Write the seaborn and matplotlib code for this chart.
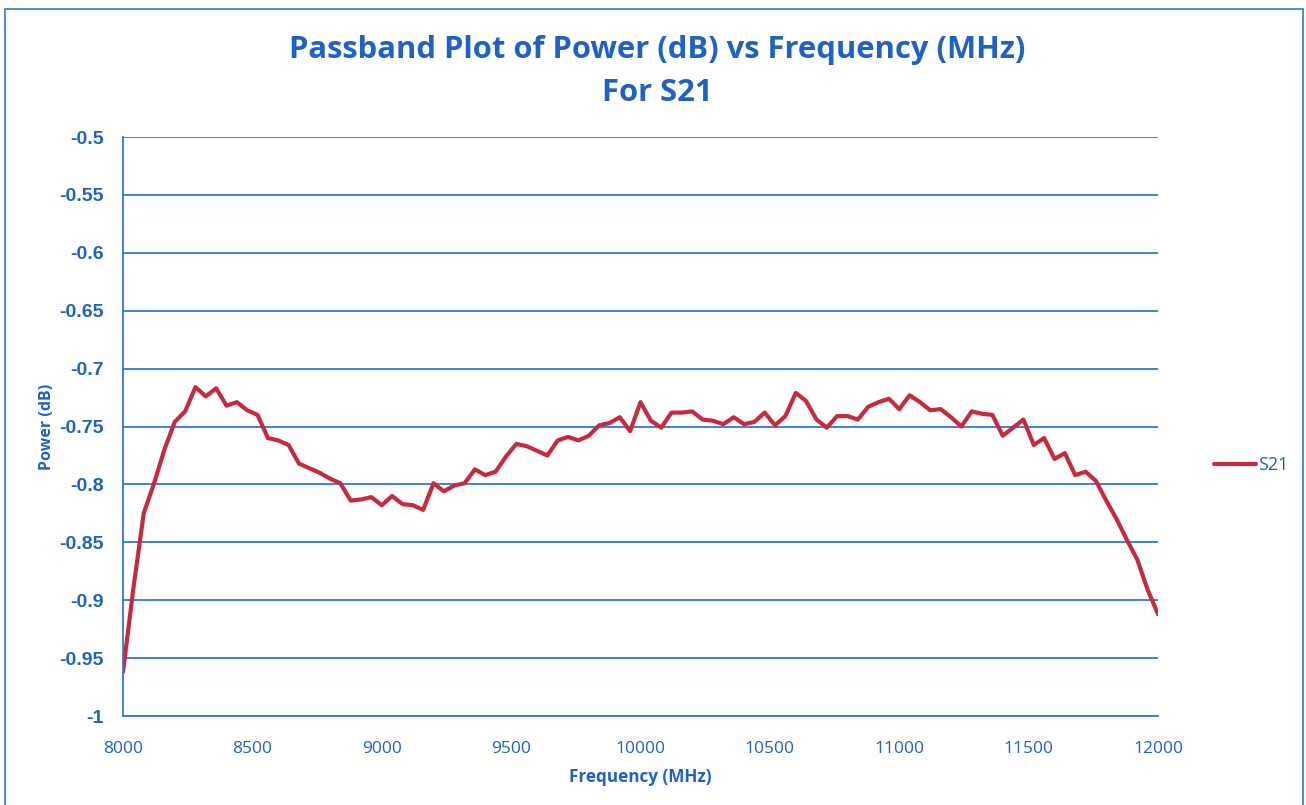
import numpy as np
import pandas as pd
import matplotlib
matplotlib.use("Agg")
import matplotlib.pyplot as plt
import seaborn as sns
from matplotlib.lines import Line2D
from matplotlib.patches import Rectangle

# Frequency points (MHz), 40 MHz step from 8000 to 12000
freq_start = 8000
freq_step = 40
power_db = [
    -0.962, -0.890, -0.825, -0.799, -0.770, -0.746, -0.737, -0.716, -0.724, -0.717,
    -0.732, -0.729, -0.736, -0.740, -0.760, -0.762, -0.766, -0.782, -0.786, -0.790,
    -0.795, -0.799, -0.814, -0.813, -0.811, -0.818, -0.810, -0.817, -0.818, -0.822,
    -0.799, -0.806, -0.801, -0.799, -0.787, -0.792, -0.789, -0.776, -0.765, -0.767,
    -0.771, -0.775, -0.762, -0.759, -0.762, -0.758, -0.749, -0.747, -0.742, -0.754,
    -0.729, -0.745, -0.751, -0.738, -0.738, -0.737, -0.744, -0.745, -0.748, -0.742,
    -0.748, -0.746, -0.738, -0.749, -0.741, -0.721, -0.728, -0.744, -0.751, -0.741,
    -0.741, -0.744, -0.733, -0.729, -0.726, -0.735, -0.723, -0.729, -0.736, -0.735,
    -0.742, -0.750, -0.737, -0.739, -0.740, -0.758, -0.751, -0.744, -0.766, -0.760,
    -0.778, -0.773, -0.792, -0.789, -0.797, -0.814, -0.830, -0.848, -0.865, -0.891,
    -0.912,
]
frequency_mhz = [freq_start + freq_step * i for i in range(len(power_db))]
series_name = "S21"

x_ticks = [8000, 8500, 9000, 9500, 10000, 10500, 11000, 11500, 12000]
y_ticks = [-1, -0.95, -0.9, -0.85, -0.8, -0.75, -0.7, -0.65, -0.6, -0.55, -0.5]
y_tick_labels = ["-1", "-0.95", "-0.9", "-0.85", "-0.8", "-0.75", "-0.7", "-0.65", "-0.6", "-0.55", "-0.5"]

df = pd.DataFrame({"Frequency (MHz)": frequency_mhz, "Power (dB)": power_db, "Series": series_name})

sns.set_theme(style="white")
plt.rcParams["font.family"] = ["Liberation Sans", "DejaVu Sans"]

BLUE_TXT = "#1F62C4"
BLUE_GRID = "#2F78D2"
RED = "#C62A3E"
SANS2 = ["Open Sans", "DejaVu Sans"]

fig = plt.figure(figsize=(13.06, 8.05), dpi=100)
W, H = 1306, 805
ax = fig.add_axes([123 / W, 1 - 716 / H, (1158 - 123) / W, (716 - 137) / H])

sns.lineplot(data=df, x="Frequency (MHz)", y="Power (dB)", hue="Series",
             palette=[RED], linewidth=3.0, ax=ax, legend=False)

ax.set_xlim(8000, 12000)
ax.set_ylim(-1, -0.5)
ax.set_xticks(x_ticks)
ax.set_xticklabels([str(t) for t in x_ticks])
ax.set_yticks(y_ticks)
ax.set_yticklabels(y_tick_labels)
ax.tick_params(axis="both", length=0, labelcolor=BLUE_TXT)
ax.tick_params(axis="x", pad=18)
ax.tick_params(axis="y", pad=14)
for lab in ax.get_xticklabels():
    lab.set_fontfamily(SANS2)
    lab.set_fontsize(12.5)
for lab in ax.get_yticklabels():
    lab.set_fontweight("bold")
    lab.set_fontsize(14)

ax.yaxis.grid(True, color=BLUE_GRID, linewidth=1.3)
ax.xaxis.grid(False)
ax.set_axisbelow(True)
for side in ["top", "right"]:
    ax.spines[side].set_visible(False)
for side in ["left", "bottom"]:
    ax.spines[side].set_color(BLUE_GRID)
    ax.spines[side].set_linewidth(1.3)

ax.set_xlabel("Frequency (MHz)", fontsize=12.3, fontweight="bold", color=BLUE_TXT,
              family=SANS2, labelpad=8)
ax.set_ylabel("Power (dB)", fontsize=11.5, fontweight="bold", color=BLUE_TXT,
              family=SANS2, labelpad=3)

fig.text(657 / W, 1 - 50 / H, "Passband Plot of Power (dB) vs Frequency (MHz)",
         ha="center", va="center", fontsize=22.3, fontweight="bold", color=BLUE_TXT,
         family=SANS2)
fig.text(657 / W, 1 - 93 / H, "For S21", ha="center", va="center", fontsize=22.3,
         fontweight="bold", color=BLUE_TXT, family=SANS2)

# Legend
handle = Line2D([0], [0], color=RED, linewidth=3.0)
fig.legend([handle], [series_name], loc="center left",
           bbox_to_anchor=(1198 / W, 1 - 465 / H), frameon=False,
           handlelength=2.3, handletextpad=0.15,
           prop={"size": 13, "family": SANS2},
           labelcolor=BLUE_TXT)

# Chart border
fig.patches.append(Rectangle((5 / W, -0.01), (W - 8) / W, 1 - 9 / H + 0.01,
                             transform=fig.transFigure, fill=False,
                             edgecolor=BLUE_GRID, linewidth=1.2))

fig.savefig("out.png", dpi=100)
